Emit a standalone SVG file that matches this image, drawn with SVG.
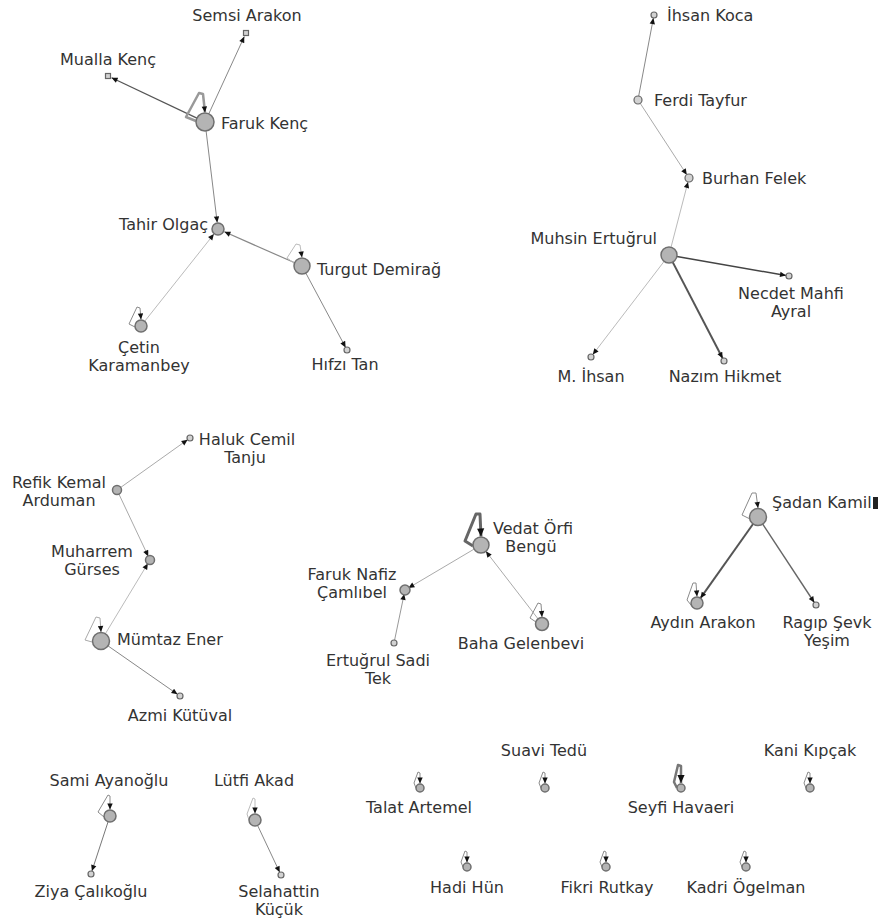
<svg xmlns="http://www.w3.org/2000/svg" width="886" height="922" viewBox="0 0 886 922">
<style>
.lbl{font-family:"DejaVu Sans",Verdana,sans-serif;font-size:16px;fill:#333}
.m{text-anchor:middle}
.e{text-anchor:end}
.nd{fill:#b4b4b4;stroke:#6f6f6f;stroke-width:1.5}
.sm{fill:#d2d2d2;stroke:#666;stroke-width:1.2}
.ed{fill:none;stroke:#999;stroke-width:1;marker-end:url(#ah)}
.lp{fill:none;stroke:#8a8a8a;stroke-width:1;stroke-linejoin:round;marker-end:url(#ah)}
.lpk{fill:none;stroke:#666;stroke-width:3;stroke-linejoin:round;marker-end:url(#ahb)}
</style>
<defs>
<marker id="ah" viewBox="0 0 10 10" refX="10" refY="5" markerWidth="8" markerHeight="6" markerUnits="userSpaceOnUse" orient="auto"><path d="M0,0.5 L10,5 L0,9.5 z" fill="#111"/></marker>
<marker id="ahb" viewBox="0 0 10 10" refX="10" refY="5" markerWidth="11" markerHeight="8" markerUnits="userSpaceOnUse" orient="auto"><path d="M0,0.5 L10,5 L0,9.5 z" fill="#111"/></marker>
</defs>
<rect width="886" height="922" fill="#fff"/>
<g id="connectors">
<line class="ed" x1="196.9" y1="118.1" x2="111.6" y2="77.7" style="stroke:#555;stroke-width:1.2"/>
<line class="ed" x1="208.8" y1="113.8" x2="244.3" y2="36.6" style="stroke:#888"/>
<line class="ed" x1="206.1" y1="131" x2="217.2" y2="222.5" style="stroke:#888"/>
<line class="ed" x1="144.7" y1="321.3" x2="213.9" y2="234.1" style="stroke:#bbb"/>
<line class="ed" x1="294.7" y1="262.8" x2="224.4" y2="231.8" style="stroke:#888;stroke-width:1.2"/>
<line class="ed" x1="305.8" y1="273" x2="345.6" y2="347.4" style="stroke:#888"/>
<path class="lp" d="M196,121 L186,117 L199,93 L203,94 L205,112.5" style="stroke:#999;stroke-width:2.5"/>
<path class="lp" d="M294,263 L287,258 L296,244 L300,245 L302,257.5" style="stroke:#bbb"/>
<path class="lp" d="M135,327 L129,324 L137,307 L140,308 L141,319.5"/>
<line class="ed" x1="638.7" y1="96" x2="653.4" y2="18" style="stroke:#888"/>
<line class="ed" x1="640.2" y1="103.3" x2="686.8" y2="174.7" style="stroke:#aaa"/>
<line class="ed" x1="671" y1="247.3" x2="688" y2="181.9" style="stroke:#bbb"/>
<line class="ed" x1="676.9" y1="256.4" x2="786" y2="275.5" style="stroke:#444;stroke-width:1.5"/>
<line class="ed" x1="664.1" y1="261.4" x2="592.8" y2="354.6" style="stroke:#bbb"/>
<line class="ed" x1="672.7" y1="262.1" x2="722.6" y2="358.3" style="stroke:#555;stroke-width:2"/>
<line class="ed" x1="120.3" y1="487.7" x2="187.6" y2="439.7" style="stroke:#aaa"/>
<line class="ed" x1="118.7" y1="493.6" x2="148.3" y2="556.4" style="stroke:#aaa"/>
<line class="ed" x1="105.1" y1="634.2" x2="147.9" y2="563.4" style="stroke:#bbb"/>
<line class="ed" x1="107.6" y1="645.6" x2="177.5" y2="694.3" style="stroke:#888"/>
<path class="lp" d="M92,642 L85,640 L96,617 L100,618 L101,632" style="stroke:#aaa"/>
<line class="ed" x1="474.1" y1="549.1" x2="408.4" y2="588" style="stroke:#aaa"/>
<line class="ed" x1="538.3" y1="619.2" x2="485.9" y2="551.3" style="stroke:#aaa"/>
<line class="ed" x1="394.6" y1="640.1" x2="404.2" y2="593.9" style="stroke:#999"/>
<path class="lpk" d="M473,546 L465,541 L476,514 L480,514 L481,536.5"/>
<path class="lp" d="M536,622 L530,618 L538,603 L541,604 L542,617"/>
<line class="ed" x1="753.4" y1="523.5" x2="700.5" y2="598.1" style="stroke:#555;stroke-width:2"/>
<line class="ed" x1="762.4" y1="523.7" x2="814.3" y2="602.5" style="stroke:#666;stroke-width:1.4"/>
<path class="lp" d="M750,519 L742,515 L752,493 L756,493 L758,508"/>
<path class="lp" d="M691,605 L687,600 L693,583 L696,583 L697,596.5"/>
<line class="ed" x1="108.1" y1="821.7" x2="91.9" y2="871.1" style="stroke:#777"/>
<line class="ed" x1="257.6" y1="825.4" x2="279.7" y2="872.3" style="stroke:#888"/>
<path class="lp" d="M104,817 L98,812 L108,795 L110,796 L110,809.5"/>
<path class="lp" d="M249,820 L247,814 L253,798 L255,799 L255,813.5" style="stroke:#bbb"/>
<path class="lp" d="M416,788 L414,783 L418,772 L420,773 L420,783.5"/>
<path class="lp" d="M541,788 L539,783 L543,772 L545,773 L545,783.5"/>
<path class="lpk" d="M677,788 L674,782 L678,765 L681,766 L681,783" style="stroke:#777;stroke-width:2.5"/>
<path class="lp" d="M806,788 L804,783 L808,772 L810,773 L810,783.5"/>
<path class="lp" d="M463,867 L461,862 L465,851 L467,852 L467,862.5"/>
<path class="lp" d="M602,867 L600,862 L604,851 L606,852 L606,862.5"/>
<path class="lp" d="M742,867 L740,862 L744,851 L746,852 L746,862.5"/>
</g>
<g id="semsi-arakon"><rect class="sm" x="243.5" y="30.5" width="5" height="5"/><text class="lbl m" x="247" y="21">Semsi Arakon</text></g>
<g id="mualla-kenc"><rect class="sm" x="105.5" y="73.5" width="5" height="5"/><text class="lbl m" x="108" y="65">Mualla Kenç</text></g>
<g id="faruk-kenc"><circle class="nd" cx="205" cy="122" r="9"/><text class="lbl" x="221" y="129">Faruk Kenç</text></g>
<g id="tahir-olgac"><circle class="nd" cx="218" cy="229" r="6"/><text class="lbl e" x="208" y="230">Tahir Olgaç</text></g>
<g id="turgut-demirag"><circle class="nd" cx="302" cy="266" r="8"/><text class="lbl" x="317" y="275">Turgut Demirağ</text></g>
<g id="cetin-karamanbey"><circle class="nd" cx="141" cy="326" r="6"/><text class="lbl m" x="139" y="353">Çetin</text><text class="lbl m" x="139" y="371">Karamanbey</text></g>
<g id="hifzi-tan"><circle class="sm" cx="347" cy="350" r="3"/><text class="lbl m" x="345" y="370">Hıfzı Tan</text></g>
<g id="ihsan-koca"><circle class="sm" cx="654" cy="15" r="3"/><text class="lbl" x="667" y="21">İhsan Koca</text></g>
<g id="ferdi-tayfur"><circle class="sm" cx="638" cy="100" r="4"/><text class="lbl" x="654" y="106">Ferdi Tayfur</text></g>
<g id="burhan-felek"><circle class="sm" cx="689" cy="178" r="4"/><text class="lbl" x="702" y="184">Burhan Felek</text></g>
<g id="muhsin-ertugrul"><circle class="nd" cx="669" cy="255" r="8"/><text class="lbl e" x="657" y="244">Muhsin Ertuğrul</text></g>
<g id="necdet-mahfi-ayral"><circle class="sm" cx="789" cy="276" r="3"/><text class="lbl m" x="791" y="299">Necdet Mahfi</text><text class="lbl m" x="791" y="317">Ayral</text></g>
<g id="m-ihsan"><circle class="sm" cx="591" cy="357" r="3"/><text class="lbl m" x="591" y="382">M. İhsan</text></g>
<g id="nazim-hikmet"><circle class="sm" cx="724" cy="361" r="3"/><text class="lbl m" x="725" y="382">Nazım Hikmet</text></g>
<g id="haluk-cemil-tanju"><circle class="sm" cx="190" cy="438" r="3"/><text class="lbl m" x="247" y="445">Haluk Cemil</text><text class="lbl m" x="245" y="463">Tanju</text></g>
<g id="refik-kemal-arduman"><circle class="nd" cx="117" cy="490" r="4.5"/><text class="lbl m" x="59" y="488">Refik Kemal</text><text class="lbl m" x="59" y="506">Arduman</text></g>
<g id="muharrem-gurses"><circle class="nd" cx="150" cy="560" r="4.5"/><text class="lbl m" x="92" y="557">Muharrem</text><text class="lbl m" x="92" y="575">Gürses</text></g>
<g id="mumtaz-ener"><circle class="nd" cx="101" cy="641" r="8.5"/><text class="lbl" x="117" y="645">Mümtaz Ener</text></g>
<g id="azmi-kutuval"><circle class="sm" cx="180" cy="696" r="3"/><text class="lbl m" x="180" y="721">Azmi Kütüval</text></g>
<g id="vedat-orfi-bengu"><circle class="nd" cx="481" cy="545" r="8"/><text class="lbl m" x="533" y="534">Vedat Örfi</text><text class="lbl m" x="531" y="552">Bengü</text></g>
<g id="faruk-nafiz-camlibel"><circle class="nd" cx="405" cy="590" r="5"/><text class="lbl m" x="352" y="580">Faruk Nafiz</text><text class="lbl m" x="352" y="598">Çamlıbel</text></g>
<g id="ertugrul-sadi-tek"><circle class="sm" cx="394" cy="643" r="3"/><text class="lbl m" x="378" y="666">Ertuğrul Sadi</text><text class="lbl m" x="378" y="684">Tek</text></g>
<g id="baha-gelenbevi"><circle class="nd" cx="542" cy="624" r="6.5"/><text class="lbl m" x="521" y="649">Baha Gelenbevi</text></g>
<g id="sadan-kamil"><circle class="nd" cx="758" cy="517" r="8.5"/><text class="lbl" x="772" y="508">Şadan Kamil</text><rect x="873" y="497" width="5" height="12" fill="#222"/></g>
<g id="aydin-arakon"><circle class="nd" cx="697" cy="603" r="6"/><text class="lbl m" x="703" y="628">Aydın Arakon</text></g>
<g id="ragip-sevk-yesim"><circle class="sm" cx="816" cy="605" r="3"/><text class="lbl m" x="827" y="628">Ragıp Şevk</text><text class="lbl m" x="827" y="646">Yeşim</text></g>
<g id="sami-ayanoglu"><circle class="nd" cx="110" cy="816" r="6"/><text class="lbl m" x="109" y="786">Sami Ayanoğlu</text></g>
<g id="ziya-calikoglu"><circle class="sm" cx="91" cy="874" r="3"/><text class="lbl m" x="91" y="897">Ziya Çalıkoğlu</text></g>
<g id="lutfi-akad"><circle class="nd" cx="255" cy="820" r="6"/><text class="lbl m" x="254" y="786">Lütfi Akad</text></g>
<g id="selahattin-kucuk"><circle class="sm" cx="281" cy="875" r="3"/><text class="lbl m" x="279" y="897">Selahattin</text><text class="lbl m" x="279" y="915">Küçük</text></g>
<g id="talat-artemel"><circle class="nd" cx="420" cy="788" r="4"/><text class="lbl m" x="419" y="813">Talat Artemel</text></g>
<g id="suavi-tedu"><circle class="nd" cx="545" cy="788" r="4"/><text class="lbl m" x="544" y="756">Suavi Tedü</text></g>
<g id="seyfi-havaeri"><circle class="nd" cx="681" cy="788" r="4"/><text class="lbl m" x="681" y="813">Seyfi Havaeri</text></g>
<g id="kani-kipcak"><circle class="nd" cx="810" cy="788" r="4"/><text class="lbl m" x="810" y="756">Kani Kıpçak</text></g>
<g id="hadi-hun"><circle class="nd" cx="467" cy="867" r="4"/><text class="lbl m" x="467" y="893">Hadi Hün</text></g>
<g id="fikri-rutkay"><circle class="nd" cx="606" cy="867" r="4"/><text class="lbl m" x="607" y="893">Fikri Rutkay</text></g>
<g id="kadri-ogelman"><circle class="nd" cx="746" cy="867" r="4"/><text class="lbl m" x="746" y="893">Kadri Ögelman</text></g>
</svg>
